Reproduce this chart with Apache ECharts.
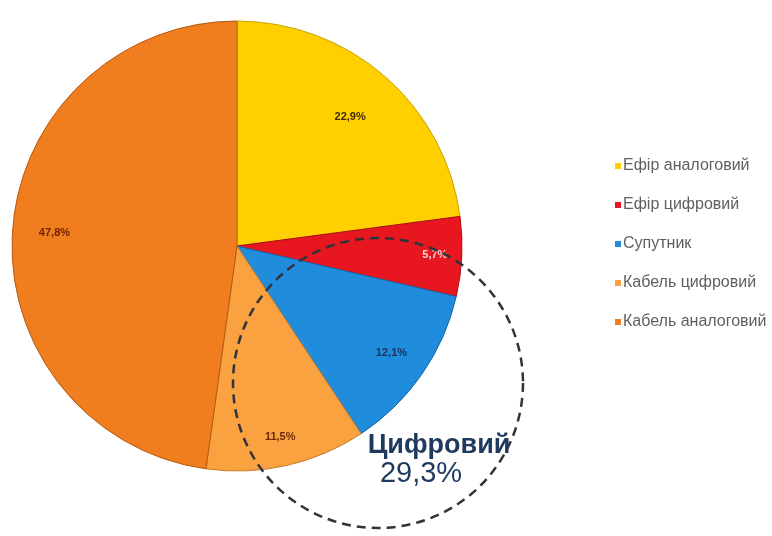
<!DOCTYPE html>
<html>
<head>
<meta charset="utf-8">
<script src="https://cdn.jsdelivr.net/npm/echarts@6/dist/echarts.min.js"></script>
<style>
  html, body { margin: 0; padding: 0; background: #fff; }
  #chart { width: 772px; height: 536px; }
</style>
</head>
<body>
<div id="chart"></div>
<script>
// Розподіл домогосподарств за способом приймання ТБ-сигналу, %
const categories = ['Ефір аналоговий', 'Ефір цифровий', 'Супутник', 'Кабель цифровий', 'Кабель аналоговий'];
const shares = [22.9, 5.7, 12.1, 11.5, 47.8];
const digitalGroup = ['Ефір цифровий', 'Супутник', 'Кабель цифровий'];

const sliceColors = ['#FFCF00', '#E8161F', '#1F8DDC', '#F9A23F', '#F07E1F'];
const sliceBorders = ['#C9A200', '#A80E14', '#1767A6', '#C97C28', '#B45A12'];
const labelColors = ['#3E2A00', '#F6D4D4', '#1B3361', '#6A2C08', '#6E1E08'];
// how far from the centre each percentage sits, as a share of the radius
const labelRadius = [0.75, 0.867, 0.822, 0.855, 0.80];

const fmt = v => v.toFixed(1).replace('.', ',') + '%';
const digitalTotal = categories.reduce((s, c, i) => digitalGroup.includes(c) ? s + shares[i] : s, 0);

const CX = 237, CY = 246, R = 225;

const pieData = categories.map((c, i) => ({
  name: c,
  value: shares[i],
  itemStyle: { color: sliceColors[i], borderColor: sliceBorders[i], borderWidth: 1 }
}));

// one transparent ring per slice, so that the slice's label lands at its own distance
const labelRings = categories.map((c, k) => ({
  name: 'Підпис ' + (k + 1),
  type: 'pie',
  center: [CX, CY],
  radius: [R * (2 * labelRadius[k] - 1), R],
  startAngle: 90,
  clockwise: true,
  silent: true,
  legendHoverLink: false,
  emphasis: { disabled: true },
  labelLine: { show: false },
  data: categories.map((n, i) => ({
    name: n,
    value: shares[i],
    itemStyle: { color: 'rgba(0,0,0,0)', borderWidth: 0 },
    label: i === k ? {
      show: true,
      position: 'inside',
      formatter: fmt(shares[i]),
      color: labelColors[i],
      fontFamily: 'Liberation Sans',
      fontWeight: 'bold',
      fontSize: 11
    } : { show: false }
  }))
}));

const chart = echarts.init(document.getElementById('chart'), null, { renderer: 'canvas' });

chart.setOption({
  animation: false,
  backgroundColor: '#ffffff',
  legend: {
    orient: 'vertical',
    left: 610,
    top: 153,
    itemWidth: 6,
    itemHeight: 6,
    itemGap: 23,
    icon: 'rect',
    itemStyle: { borderWidth: 0 },
    textStyle: { fontFamily: 'Liberation Sans', fontSize: 16, color: '#5f5f5f', padding: [0, 0, 0, -3] },
    data: categories
  },
  series: [
    {
      name: 'Частки',
      type: 'pie',
      center: [CX, CY],
      radius: [0, R],
      startAngle: 90,
      clockwise: true,
      label: { show: false },
      labelLine: { show: false },
      emphasis: { disabled: true },
      data: pieData
    }
  ].concat(labelRings),
  graphic: [
    {
      type: 'circle',
      shape: { cx: 378, cy: 383, r: 145 },
      style: { fill: 'none', stroke: '#30333d', lineWidth: 2.5, lineDash: [9, 6] },
      z: 10
    },
    {
      type: 'text',
      x: 439, y: 446,
      style: {
        text: 'Цифровий',
        fill: '#1E3A5F',
        font: 'bold 27px "Liberation Sans"',
        textAlign: 'center',
        textVerticalAlign: 'middle'
      },
      z: 11
    },
    {
      type: 'text',
      x: 421, y: 474,
      style: {
        text: fmt(digitalTotal),
        fill: '#1E3A5F',
        font: '29px "Liberation Sans"',
        textAlign: 'center',
        textVerticalAlign: 'middle'
      },
      z: 11
    }
  ]
});
</script>
</body>
</html>
